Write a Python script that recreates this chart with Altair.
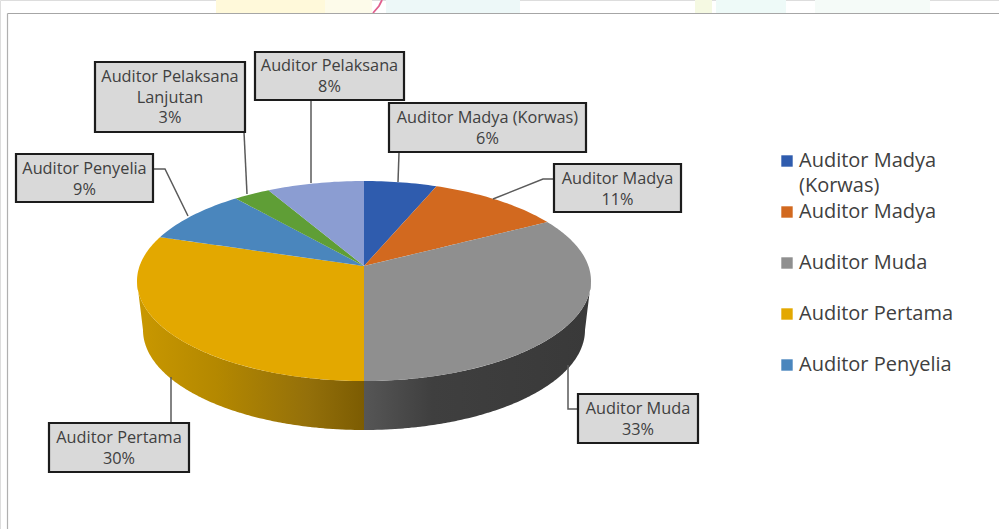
import altair as alt
import numpy as np
import pandas as pd

# Composition of auditors by functional position (percent)
categories = [
    "Auditor Madya (Korwas)", "Auditor Madya", "Auditor Muda", "Auditor Pertama",
    "Auditor Penyelia", "Auditor Pelaksana Lanjutan", "Auditor Pelaksana",
]
shares = [6, 11, 33, 30, 9, 3, 8]
colors = ["#2f5cae", "#d2691f", "#8f8f8f", "#e3a800", "#4a86bd", "#5f9e36", "#8b9dd2"]
legend_entries = categories[:5]

# Lines of each callout, from the category names and shares
callout_lines = [
    ["Auditor Madya (Korwas)", "6%"],
    ["Auditor Madya", "11%"],
    ["Auditor Muda", "33%"],
    ["Auditor Pertama", "30%"],
    ["Auditor Penyelia", "9%"],
    ["Auditor Pelaksana", "Lanjutan", "3%"],
    ["Auditor Pelaksana", "8%"],
]

# Layout in canvas pixels
W, H = 999, 529
CX, CY, RX, RY = 364, 281, 227, 100
TILT = 0.15
BOTTOM_CY, BOTTOM_RX = 330, 221
box_left = [389, 554, 578, 49, 16, 95, 255]
box_right = [586, 681, 698, 189, 153, 245, 404]
box_top = [103, 164, 394, 423, 154, 62, 52]
box_bottom = [152, 212, 443, 472, 202, 132, 100]
first_line_y = [118, 179, 409, 438, 169, 77, 66]
line_step = 20.5
leaders = [
    [(399, 153), (398, 182)],
    [(554, 179), (543, 179), (493, 199)],
    [(578, 409), (568, 409), (568, 365)],
    [(171, 423), (171, 377)],
    [(153, 169), (165, 169), (188, 216)],
    [(244, 132), (247, 194)],
    [(311, 100), (311, 183)],
]
strip = [
    (216, 325, "#fff9da"), (325, 372, "#fdfbea"), (386, 520, "#edf8f8"),
    (695, 712, "#f5f9e2"), (716, 786, "#eefaf8"), (815, 930, "#f5fbf8"),
]

FONT = "Open Sans"
TEXT = "#404040"
LEGEND_SIZE = 20
X = alt.X("x:Q", scale=alt.Scale(domain=[0, W]), axis=None)
Y = alt.Y("y:Q", scale=alt.Scale(domain=[H, 0]), axis=None, stack=None)


def rim_point(theta):
    """Project a circle angle (clockwise from the top) onto the tilted pie rim."""
    px, py = np.sin(theta), np.cos(theta)
    den = 1 + TILT * py
    return (CX + RX * px * np.sqrt(1 - TILT ** 2) / den,
            CY - RY * (py + TILT) / den)


def convex_bands(points):
    """Turn a convex polygon into x / y / y2 rows for an area mark."""
    rows = []
    closed = points + points[:1]
    for x in sorted({round(p[0], 3) for p in points}):
        hits = []
        for (x0, y0), (x1, y1) in zip(closed, closed[1:]):
            if min(x0, x1) - 1e-3 <= x <= max(x0, x1) + 1e-3:
                if abs(x1 - x0) < 1e-6:
                    hits += [y0, y1]
                else:
                    hits.append(y0 + (y1 - y0) * (x - x0) / (x1 - x0))
        rows.append((x, min(hits), max(hits)))
    return rows


# Top face: one convex wedge per category, cut from the shares
wedge_rows = []
start = 0.0
apex = rim_point(0)[0], CY - RY * TILT
for name, share in zip(categories, shares):
    end = start + share / 100 * 2 * np.pi
    rim = [rim_point(t) for t in np.linspace(start, end, max(share * 3, 12))]
    for x, y, y2 in convex_bands([apex] + rim):
        wedge_rows.append({"category": name, "x": x, "y": y, "y2": y2})
    start = end
wedges = pd.DataFrame(wedge_rows)


def wall_rows(side):
    """Side wall between the lower rim of the top face and the bottom ellipse."""
    phi = np.linspace(0, np.pi / 2, 80)
    top_x, top_y = CX + side * RX * np.sin(phi), CY + RY * np.cos(phi)
    low_x, low_y = CX + side * BOTTOM_RX * np.sin(phi), BOTTOM_CY + RY * np.cos(phi)
    low_x, low_y = np.append(low_x, top_x[-1]), np.append(low_y, top_y[-1])
    xs = np.unique(np.concatenate([top_x, low_x]))
    top = np.interp(xs, *zip(*sorted(zip(top_x, top_y))))
    low = np.interp(xs, *zip(*sorted(zip(low_x, low_y))))
    return pd.DataFrame({"x": xs, "y": top, "y2": low})


def wall(side, stops):
    return alt.Chart(wall_rows(side)).mark_area(
        orient="vertical",
        color=alt.Gradient(gradient="linear", x1=0, x2=1, y1=0, y2=0,
                           stops=[alt.GradientStop(offset=o, color=c) for o, c in stops]),
    ).encode(x=X, y=Y, y2="y2:Q")


layers = []

# Faint strip of the page behind the chart panel
for x0, x1, fill in strip:
    layers.append(
        alt.Chart(pd.DataFrame({"x": [x0], "x2": [x1], "y": [0], "y2": [13]}))
        .mark_rect(color=fill).encode(x=X, x2="x2:Q", y=Y, y2="y2:Q")
    )
layers.append(
    alt.Chart(pd.DataFrame({"x": [382, 379, 373], "y": [0, 6, 13]}))
    .mark_line(color="#e0608e", strokeWidth=1.8, orient="vertical").encode(x=X, y=Y)
)

# Panel edges
layers.append(
    alt.Chart(pd.DataFrame({"x": [7.5], "x2": [W], "y": [13.5]}))
    .mark_rule(color="#a6a6a6", strokeWidth=1.2).encode(x=X, x2="x2:Q", y=Y)
)
layers.append(
    alt.Chart(pd.DataFrame({"x": [7.5], "y": [13.5], "y2": [H]}))
    .mark_rule(color="#b0b0b0", strokeWidth=1.2).encode(x=X, y=Y, y2="y2:Q")
)

layers.append(wall(-1, [(0, "#c99800"), (0.35, "#b48800"), (0.75, "#94700a"), (1, "#7c5c02")]))
layers.append(wall(1, [(0, "#565656"), (0.3, "#3f3f3f"), (1, "#393939")]))

layers.append(
    alt.Chart(wedges).mark_area(orient="vertical").encode(
        x=X, y=Y, y2="y2:Q",
        color=alt.Color(
            "category:N",
            scale=alt.Scale(domain=categories, range=colors),
            legend=alt.Legend(
                title=None, values=legend_entries, orient="none",
                legendX=777, legendY=151, columns=1,
                symbolType="square", symbolSize=130, symbolStrokeWidth=0,
                labelFont=FONT, labelFontSize=LEGEND_SIZE, labelColor=TEXT, labelLimit=220,
                labelOffset=2, rowPadding=31,
                # the bracketed part of the first entry sits on its own line below
                labelExpr="datum.label == 'Auditor Madya (Korwas)' ? 'Auditor Madya' : datum.label",
            ),
        ),
    )
)

# Second line of the first legend entry
layers.append(
    alt.Chart(pd.DataFrame({"x": [799], "y": [186], "t": ["(Korwas)"]}))
    .mark_text(font=FONT, fontSize=LEGEND_SIZE, color=TEXT, align="left", baseline="middle")
    .encode(x=X, y=Y, text="t:N")
)

# Callout leaders
leader_rows = [
    {"id": i, "step": j, "x": p[0], "y": p[1]}
    for i, path in enumerate(leaders) for j, p in enumerate(path)
]
layers.append(
    alt.Chart(pd.DataFrame(leader_rows))
    .mark_line(stroke="#5a5a5a", strokeWidth=1.5)
    .encode(x=X, y=Y, detail="id:N", order="step:Q")
)

# Callout boxes and their text
boxes = pd.DataFrame({"x": box_left, "x2": box_right, "y": box_top, "y2": box_bottom})
layers.append(
    alt.Chart(boxes).mark_rect(fill="#d9d9d9", stroke="#1c1c1c", strokeWidth=2.2)
    .encode(x=X, x2="x2:Q", y=Y, y2="y2:Q")
)
text_rows = [
    {"x": (box_left[i] + box_right[i]) / 2, "y": first_line_y[i] + k * line_step, "t": line}
    for i, lines in enumerate(callout_lines) for k, line in enumerate(lines)
]
layers.append(
    alt.Chart(pd.DataFrame(text_rows))
    .mark_text(font=FONT, fontSize=16.3, color=TEXT, align="center", baseline="middle")
    .encode(x=X, y=Y, text="t:N")
)

chart = (
    alt.layer(*layers)
    .properties(width=W, height=H, padding=0, autosize=alt.AutoSizeParams(type="none"))
    .configure_view(stroke=None)
    .configure(background="white")
)
chart.save("out.html", embed_options={"renderer": "svg", "actions": False})
